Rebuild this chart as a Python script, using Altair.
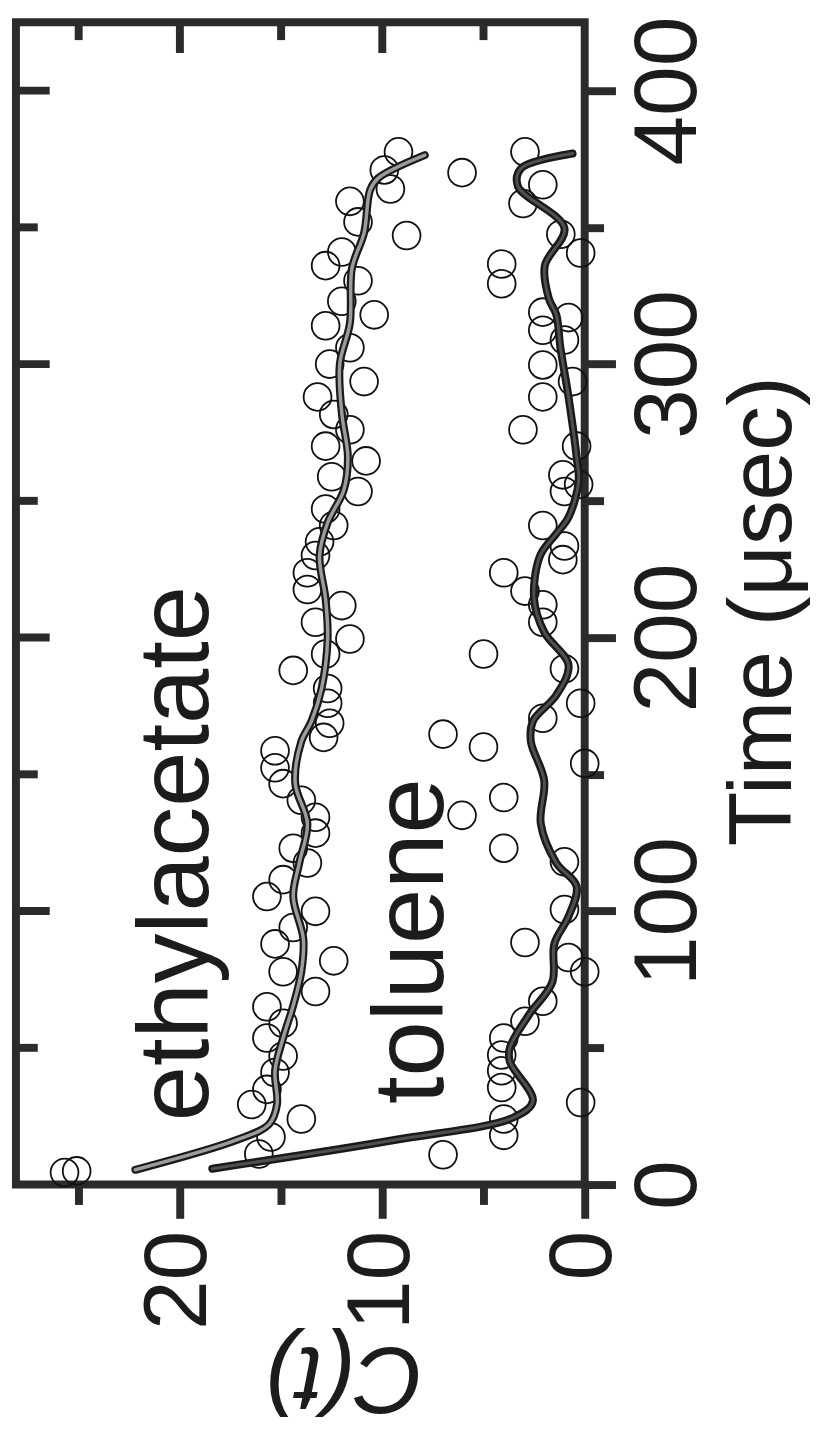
import altair as alt
import pandas as pd

# ---------------- data ----------------
# ethylacetate circles: C(t) value, time (usec)
ea_C = [25.1, 15.5, 14.0, 16.45, 15.7, 15.3, 14.9, 15.7, 14.9, 15.7, 13.3, 14.9, 12.4,
        15.3, 14.4, 13.3, 15.7, 14.9, 13.7, 14.4, 13.3, 13.3, 14.0, 14.9, 15.3, 15.3,
        12.9, 12.6, 12.7, 12.7, 14.4, 12.8, 11.6, 13.3, 12.0, 13.7, 13.7, 13.3, 13.1,
        12.4, 12.8, 11.2, 12.5, 10.8, 12.8, 11.6, 12.4, 13.2, 10.9, 12.6, 11.6, 12.8,
        10.4, 12.0, 11.2, 12.8, 12.0, 8.8, 11.2, 11.6, 9.6, 9.9, 9.2]
ea_t = [5.0, 17.4, 24.0, 29.3, 34.8, 41.0, 47.0, 53.6, 59.0, 65.0, 70.6, 77.8, 81.8,
        88.0, 94.0, 99.9, 105.3, 111.5, 117.6, 123.0, 128.5, 134.3, 140.5, 146.6, 152.4, 158.6,
        163.5, 168.7, 176.0, 181.4, 188.0, 194.0, 199.5, 205.6, 211.7, 217.6, 223.7, 230.0, 235.0,
        241.0, 247.0, 253.4, 258.8, 264.6, 270.0, 276.0, 281.6, 288.0, 293.6, 300.0, 306.0, 314.0,
        318.0, 323.0, 330.5, 336.0, 341.0, 347.0, 352.0, 359.5, 364.0, 371.0, 377.6]

# toluene circles
tol_C = [25.7, 16.1, 7.0, 4.0, 4.0, 0.2, 4.1, 4.1, 4.1, 4.0, 2.95, 2.07, 0.0, 0.8, 2.95,
         1.0, 1.0, 4.0, 6.06, 4.0, 0.0, 5.0, 7.0, 2.07, 0.2, 1.0, 5.0, 2.07, 2.07, 2.95,
         4.0, 1.08, 1.0, 2.07, 1.0, 0.3, 1.08, 0.4, 3.05, 2.07, 0.6, 2.07, 1.0, 2.07, 0.8,
         2.07, 4.1, 4.1, 0.2, 1.18, 3.05, 2.07, 6.06, 2.95]
tol_t = [4.4, 11.2, 10.9, 18.0, 24.0, 30.0, 35.5, 41.6, 47.4, 53.6, 59.7, 67.0, 77.8, 83.0, 88.5,
         100.6, 118.0, 123.0, 135.0, 141.5, 154.0, 160.0, 164.7, 170.5, 176.0, 188.6, 194.0, 205.6, 212.0, 217.0,
         223.7, 228.5, 233.5, 241.0, 253.4, 256.0, 259.5, 270.0, 276.0, 288.0, 293.6, 299.7, 308.8, 312.4, 317.0,
         319.0, 329.4, 336.6, 340.6, 347.5, 358.7, 365.6, 370.0, 377.6]

# smooth curves drawn through the data
ea_fit_C = [22.2, 17.2, 15.6, 15.2, 15.3, 14.9, 14.4, 14.0, 13.9, 14.4, 14.1, 13.7, 14.3,
            14.0, 13.5, 13.0, 12.7, 12.8, 13.1, 12.7, 11.9, 11.7, 12.0, 12.1, 11.6, 11.5,
            10.9, 10.6, 10.2, 7.9]
ea_fit_t = [5.4, 16.3, 22.0, 29.3, 41.6, 53.6, 65.5, 77.8, 89.8, 105.3, 117.6, 132.0, 146.6,
            162.0, 169.4, 181.4, 199.5, 214.0, 230.0, 242.0, 254.0, 266.0, 282.0, 300.0, 315.0, 335.0,
            348.0, 363.7, 368.0, 376.4]

tol_fit_C = [18.4, 9.4, 3.5, 2.56, 3.7, 3.7, 2.76, 1.6, 1.5, 0.8, 0.4, 1.4, 2.17, 2.0,
             2.66, 2.56, 1.4, 0.8, 2.0, 2.5, 2.2, 1.4, 0.8, 0.3, 0.4, 0.8, 1.2, 1.4, 1.77,
             1.97, 1.0, 3.3, 3.15, 0.6]
tol_fit_t = [5.8, 16.3, 24.6, 30.6, 45.0, 50.0, 62.0, 74.0, 88.0, 98.0, 109.0, 117.6, 132.0, 147.7,
             162.0, 169.4, 179.0, 190.0, 202.0, 214.0, 230.0, 238.0, 244.0, 257.0, 266.0, 288.0, 306.0, 318.0, 324.0,
             336.0, 349.7, 365.0, 371.5, 377.0]

# tick values
c_major = [0, 10, 20]
c_minor = [5, 15, 25]
t_major = [0, 100, 200, 300, 400]
t_minor = [50, 150, 250, 350]

# ---------------- chart ----------------
FONT = "Liberation Sans"
INK = "#1c1c1c"
FRAME = "#2b2b2b"

xs = alt.Scale(domain=[0, 28.1], reverse=True, nice=False, zero=False)
ys = alt.Scale(domain=[0, 425], nice=False, zero=False)

x_axis = alt.Axis(
    values=sorted(c_major + c_minor),
    labelExpr="datum.value % 10 === 0 ? datum.label : ''",
    tickSize={"condition": {"test": "datum.value % 10 === 0", "value": 34}, "value": 20},
    tickWidth=8, tickColor=FRAME, domain=False, grid=False,
    labelAngle=270, labelAlign="right", labelBaseline="alphabetic",
    labelFont=FONT, labelFontSize=90, labelColor=INK, labelPadding=12, labelOffset=26,
    labelFlush=False, labelOverlap=False, labelBound=False,
    titleAngle=180, titleFont=FONT, titleFontSize=96, titleFontStyle="italic",
    titleFontWeight="normal", titleColor=INK, titleAlign="center", titleBaseline="alphabetic",
    titleX=330, titleY=164,
)
y_axis = alt.Axis(
    orient="right",
    values=sorted(t_major + t_minor),
    labelExpr="datum.value % 100 === 0 ? datum.label : ''",
    tickSize={"condition": {"test": "datum.value % 100 === 0", "value": 31}, "value": 19},
    tickWidth=8, tickColor=FRAME, domain=False, grid=False,
    labelAngle=270, labelAlign="center", labelBaseline="alphabetic",
    labelFont=FONT, labelFontSize=90, labelColor=INK, labelPadding=81,
    labelFlush=False, labelOverlap=False, labelBound=False,
    titleAngle=270, titleFont=FONT, titleFontSize=90, titleFontWeight="normal",
    titleColor=INK, titleAlign="center", titleBaseline="alphabetic",
    titleX=207, titleY=593,
)

X_TITLE = "C(t)"
Y_TITLE = "Time (μsec)"


def xe(field):
    return alt.X(field, type="quantitative", scale=xs, axis=x_axis, title=X_TITLE)


def ye(field):
    return alt.Y(field, type="quantitative", scale=ys, axis=y_axis, title=Y_TITLE)


pts = pd.DataFrame({
    "C": ea_C + tol_C,
    "t": ea_t + tol_t,
})
ea_fit = pd.DataFrame({"C": ea_fit_C, "t": ea_fit_t})
tol_fit = pd.DataFrame({"C": tol_fit_C, "t": tol_fit_t})

circles = alt.Chart(pts).mark_point(
    shape="circle", size=784, filled=False, color="#111111", strokeWidth=1.8, opacity=1
).encode(x=xe("C"), y=ye("t"))


def curve(df, outer, inner, w_out, w_in):
    base = alt.Chart(df).encode(x=xe("C"), y=ye("t"), order=alt.Order("t:Q"))
    a = base.mark_line(color=outer, strokeWidth=w_out, interpolate="catmull-rom", strokeCap="round")
    b = base.mark_line(color=inner, strokeWidth=w_in, interpolate="catmull-rom", strokeCap="round")
    return [a, b]


ea_lines = curve(ea_fit, "#1a1a1a", "#9c9c9c", 8, 3.5)
tol_lines = curve(tol_fit, "#1a1a1a", "#505050", 8, 3)

# inward ticks on the top and left edges
top_major = alt.Chart(pd.DataFrame({"v": c_major[1:]})).mark_rule(
    color=FRAME, strokeWidth=8).encode(x=xe("v"), y=alt.value(0), y2=alt.value(31))
top_minor = alt.Chart(pd.DataFrame({"v": c_minor})).mark_rule(
    color=FRAME, strokeWidth=8).encode(x=xe("v"), y=alt.value(0), y2=alt.value(18))
left_major = alt.Chart(pd.DataFrame({"v": t_major[1:]})).mark_rule(
    color=FRAME, strokeWidth=8).encode(y=ye("v"), x=alt.value(0), x2=alt.value(34))
left_minor = alt.Chart(pd.DataFrame({"v": t_minor})).mark_rule(
    color=FRAME, strokeWidth=8).encode(y=ye("v"), x=alt.value(0), x2=alt.value(22))

ann_ea = alt.Chart(pd.DataFrame({"k": [0]})).mark_text(
    text="ethylacetate", angle=270, font=FONT, fontSize=100, color=INK,
    align="center", baseline="alphabetic"
).encode(
    x=alt.X(datum=18.6, type="quantitative", scale=xs, axis=x_axis, title=X_TITLE),
    y=alt.Y(datum=121, type="quantitative", scale=ys, axis=y_axis, title=Y_TITLE),
)
ann_tol = alt.Chart(pd.DataFrame({"k": [0]})).mark_text(
    text="toluene", angle=270, font=FONT, fontSize=100, color=INK,
    align="center", baseline="alphabetic"
).encode(
    x=alt.X(datum=7.0, type="quantitative", scale=xs, axis=x_axis, title=X_TITLE),
    y=alt.Y(datum=89, type="quantitative", scale=ys, axis=y_axis, title=Y_TITLE),
)

chart = alt.layer(
    circles, *ea_lines, *tol_lines,
    top_major, top_minor, left_major, left_minor,
    ann_ea, ann_tol,
).properties(
    width=573, height=1171,
    autosize=alt.AutoSizeParams(type="none"),
    padding={"left": 8, "top": 9, "right": 230, "bottom": 253},
    background="white",
).configure_view(
    stroke=FRAME, strokeWidth=8
)

chart.save("out.html", embed_options={"renderer": "svg", "actions": False})
